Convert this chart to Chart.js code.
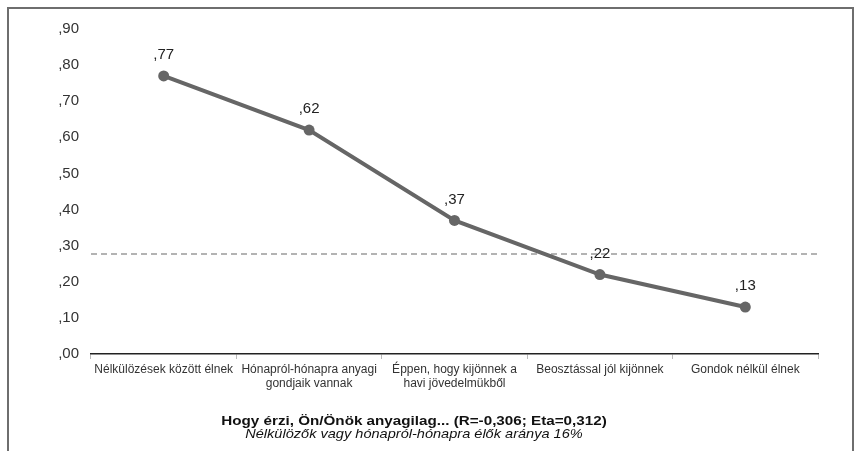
<!DOCTYPE html>
<html>
<head>
<meta charset="utf-8">
<script src="https://cdn.jsdelivr.net/npm/chart.js@4/dist/chart.umd.min.js"></script>
<style>
  body { margin: 0; background: #fff; font-family: "Liberation Sans", Arial, sans-serif; }
  #frame { position: absolute; left: 7px; top: 7px; width: 843px; height: 460px; border: 2px solid #6e6e6e; border-bottom: none; }
  #chart { position: absolute; left: 0; top: 0; }
  .ttl { position: absolute; left: 0; width: 828px; text-align: center; color: #111; white-space: nowrap; line-height: 15px; transform-origin: 414px 50%; }
  #t1 { top: 413px; font-size: 13px; font-weight: bold; transform: scaleX(1.17); }
  #t2 { top: 426px; font-size: 13px; font-style: italic; transform: scaleX(1.12); }
</style>
</head>
<body>
<div id="frame"></div>
<canvas id="chart" width="860" height="451"></canvas>
<div class="ttl" id="t1">Hogy érzi, Ön/Önök anyagilag... (R=-0,306; Eta=0,312)</div>
<div class="ttl" id="t2">Nélkülözők vagy hónapról-hónapra élők aránya 16%</div>
<script>
// values
const categories = [
  'Nélkülözések között élnek',
  ['Hónapról-hónapra anyagi', 'gondjaik vannak'],
  ['Éppen, hogy kijönnek a', 'havi jövedelmükből'],
  'Beosztással jól kijönnek',
  'Gondok nélkül élnek'
];
const values = [0.77, 0.62, 0.37, 0.22, 0.13];
const meanValue = 0.277;
const yMax = 0.9;
const yStep = 0.1;

const fmt = v => ',' + Number(v).toFixed(2).split('.')[1];

const extras = {
  id: 'extras',
  beforeDatasetsDraw(chart) {
    const { ctx, chartArea } = chart;
    const y = chart.scales.y.getPixelForValue(meanValue);
    ctx.save();
    ctx.strokeStyle = '#9a9a9a';
    ctx.lineWidth = 1.5;
    ctx.setLineDash([6, 4]);
    ctx.beginPath();
    ctx.moveTo(chartArea.left, y);
    ctx.lineTo(chartArea.right, y);
    ctx.stroke();
    ctx.restore();
  },
  afterDatasetsDraw(chart) {
    const { ctx } = chart;
    const meta = chart.getDatasetMeta(0);
    ctx.save();
    ctx.font = '15px "Liberation Sans", Arial, sans-serif';
    ctx.fillStyle = '#222';
    ctx.textAlign = 'center';
    ctx.textBaseline = 'middle';
    meta.data.forEach((pt, i) => ctx.fillText(fmt(values[i]), pt.x, pt.y - 21));
    ctx.restore();
  }
};

new Chart(document.getElementById('chart'), {
  type: 'line',
  data: {
    labels: categories,
    datasets: [{
      data: values,
      borderColor: '#666666',
      backgroundColor: '#666666',
      borderWidth: 4,
      pointRadius: 5.5,
      pointBackgroundColor: '#666666',
      pointBorderWidth: 0,
      tension: 0
    }]
  },
  options: {
    responsive: false,
    animation: false,
    layout: { padding: { top: 29, right: 42, left: 0, bottom: 0 } },
    plugins: { legend: { display: false }, tooltip: { enabled: false } },
    scales: {
      x: {
        offset: true,
        grid: { offset: true, drawOnChartArea: false, tickLength: 5, color: '#bbbbbb' },
        border: { color: '#222', width: 1.5 },
        ticks: { color: '#333', font: { size: 12, family: '"Liberation Sans", Arial, sans-serif' }, padding: 3, maxRotation: 0, autoSkip: false },
        afterFit: s => { s.height = 97; }
      },
      y: {
        min: 0,
        max: yMax,
        grid: { display: false },
        border: { display: false },
        ticks: { stepSize: yStep, callback: v => fmt(v), color: '#333', font: { size: 15, family: '"Liberation Sans", Arial, sans-serif' }, padding: 4 },
        afterFit: s => { s.width = 91; }
      }
    }
  },
  plugins: [extras]
});
</script>
</body>
</html>
